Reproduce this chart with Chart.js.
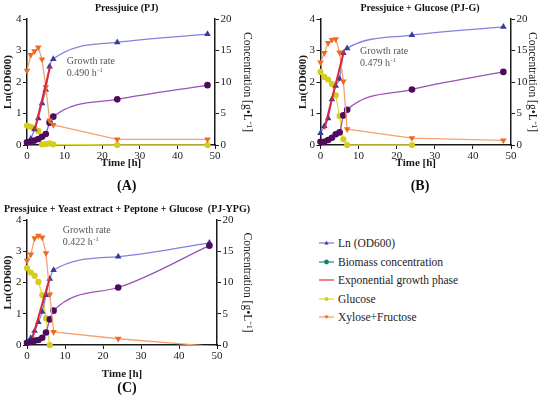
<!DOCTYPE html>
<html>
<head>
<meta charset="utf-8">
<script src="https://cdn.jsdelivr.net/npm/chart.js@4.4.0/dist/chart.umd.min.js"></script>
<style>
  body { margin: 0; background: #fff; }
  #wrap { position: relative; width: 550px; height: 397px; overflow: hidden; font-family: "Liberation Serif", serif; }
  #wrap canvas { position: absolute; }
  #legend { position: absolute; left: 319px; top: 234px; font-size: 11.5px; color: #222; }
  .item { height: 18.5px; display: flex; align-items: center; }
  .item svg { width: 15px; height: 8px; margin-right: 4px; }
</style>
</head>
<body>
<div id="wrap">
  <canvas id="chartA" width="275" height="197" style="left:0;top:0"></canvas>
  <canvas id="chartB" width="275" height="197" style="left:275px;top:0"></canvas>
  <canvas id="chartC" width="275" height="200" style="left:0;top:197px"></canvas>
  <div id="legend">
    <div class="item"><svg viewBox="0 0 15 8"><line x1="0" y1="4" x2="15" y2="4" stroke="#8383df" stroke-width="1.3"/><polygon points="7.5,1.8 9.6,5.4 5.4,5.4" fill="#363c98"/></svg>Ln (OD600)</div>
    <div class="item"><svg viewBox="0 0 15 8"><line x1="0" y1="4" x2="15" y2="4" stroke="#2a9a82" stroke-width="1.3"/><circle cx="7.5" cy="4" r="2.4" fill="#17806c"/></svg>Biomass concentration</div>
    <div class="item"><svg viewBox="0 0 15 8"><line x1="0" y1="4" x2="15" y2="4" stroke="#f0606e" stroke-width="1.6"/></svg>Exponential growth phase</div>
    <div class="item"><svg viewBox="0 0 15 8"><line x1="0" y1="4" x2="15" y2="4" stroke="#e2dc3c" stroke-width="1.3"/><circle cx="7.5" cy="4" r="2" fill="#d6cc1e"/></svg>Glucose</div>
    <div class="item"><svg viewBox="0 0 15 8"><line x1="0" y1="4" x2="15" y2="4" stroke="#f6a170" stroke-width="1.3"/><polygon points="7.5,6 9.6,2.4 5.4,2.4" fill="#ef6a1f"/></svg>Xylose+Fructose</div>
  </div>
</div>
<script>
// sampling times [h]
const hours = [0, 1, 2, 3, 4, 5, 6, 7, 24, 48];

// (A) Pressjuice
const pjOD = [0.05, 0.2, 0.5, 0.85, 1.32, 1.75, 2.49, 2.73, 3.26, 3.52];
const pjBiomass = [0.42, 0.5, 0.7, 0.95, 1.3, 1.75, 3.55, 4.5, 7.25, 9.5];
const pjGlucose = [3.08, 2.88, 2.65, 2.23, 0.1, 0.15, 0.25, 0.1, 0, 0];
const pjXylFru = [11.8, 14.3, 14.9, 15.5, 13.6, 9.2, 3.9, 3.2, 0.9, 0.9];
const pjExpT = [2, 6.2];
const pjExpOD = [0.45, 2.51];

// (B) Pressjuice + Glucose
const pjgOD = [0.38, 0.6, 0.85, 1.45, 1.88, 2.1, 2.92, 3.07, 3.49, 3.75];
const pjgBiomass = [0.5, 0.5, 0.8, 1.15, 1.7, 2.0, 4.7, 5.6, 8.8, 11.6];
const pjgGlucose = [11.6, 10.8, 10.4, 9.7, 7.9, 4.6, 0.9, 0, 0, null];
const pjgXylFru = [13.1, 14.6, 16.2, 16.7, 16.8, 14.7, 10.1, 2.5, 1.1, 0.75];
const pjgExpT = [1, 6.2];
const pjgExpOD = [0.5, 3.0];

// (C) Pressjuice + Yeast extract + Peptone + Glucose
const ypgOD = [0.05, 0.22, 0.45, 0.73, 1.06, 1.6, 2.12, 2.4, 2.83, 3.27];
const ypgBiomass = [0.37, 0.53, 0.7, 0.8, 1.17, 2.0, 4.1, 5.5, 9.2, 15.9];
const ypgGlucose = [12.3, 11.6, 11.1, 10.1, 8.0, 4.3, 0, null, null, null];
const ypgXylFru = [13.5, 14.5, 17.1, 17.5, 17.2, 14.7, 8.1, 2.1, 1.0, -0.17];
const ypgExpT = [1.5, 6];
const ypgExpOD = [0.25, 2.15];

const serif = '"Liberation Serif", "Times New Roman", serif';
Chart.defaults.font.family = serif;

function pts(times, values) {
  return times.map((t, i) => ({ x: t, y: values[i] }));
}

// panel title, (A)/(B)/(C) letter and growth rate note
const panelText = {
  id: 'panelText',
  afterDraw(chart, args, o) {
    const ctx = chart.ctx;
    ctx.save();
    ctx.textBaseline = 'middle';
    ctx.textAlign = 'center';
    ctx.fillStyle = '#111';
    ctx.font = 'bold 10px ' + serif;
    ctx.fillText(o.title, o.cx, o.titleY);
    ctx.font = 'bold 14px ' + serif;
    ctx.fillText(o.letter, o.cx, o.letterY);

    const x = chart.scales.x.getPixelForValue(o.noteX);
    const y = chart.scales.y.getPixelForValue(o.noteY);
    ctx.textAlign = 'left';
    ctx.fillStyle = '#555';
    ctx.font = '10px ' + serif;
    ctx.fillText('Growth rate', x, y);
    const base = o.rate + ' h';
    ctx.fillText(base, x, y + 12);
    const w = ctx.measureText(base).width;
    ctx.font = '6.5px ' + serif;
    ctx.fillText('-1', x + w + 0.5, y + 9);
    ctx.restore();
  }
};

function makePanel(id, p) {
  const ink = '#1a1a1a';
  const tickFont = { family: serif, size: 11 };
  const grid = { drawOnChartArea: false, color: ink, tickLength: 4, lineWidth: 1 };
  const border = { color: ink, width: 1.5 };

  return new Chart(document.getElementById(id), {
    type: 'line',
    data: {
      datasets: [
        {
          label: 'Exponential growth phase',
          data: pts(p.expT, p.expOD),
          borderColor: '#d8283a', borderWidth: 2, pointRadius: 0, tension: 0,
          yAxisID: 'y'
        },
        {
          label: 'Xylose+Fructose',
          data: pts(hours, p.xylFru),
          borderColor: '#f6a170', borderWidth: 1.3, tension: 0,
          pointStyle: 'triangle', rotation: 180,
          pointRadius: c => (c.raw && c.raw.y < 0 ? 0 : 3.8),
          pointBackgroundColor: '#ef6a1f', pointBorderWidth: 0,
          yAxisID: 'y1', clip: { left: 6, right: 6, top: 6, bottom: 1 }
        },
        {
          label: 'Biomass concentration',
          data: pts(hours, p.biomass),
          borderColor: '#9a52b8', borderWidth: 1.3, cubicInterpolationMode: 'monotone',
          pointStyle: 'circle', pointRadius: 3.3,
          pointBackgroundColor: '#4b0c5c', pointBorderWidth: 0,
          yAxisID: 'y1', clip: 6
        },
        {
          label: 'Ln (OD600)',
          data: pts(hours, p.od),
          borderColor: '#8383df', borderWidth: 1.3, cubicInterpolationMode: 'monotone',
          pointStyle: 'triangle', pointRadius: 3.8,
          pointBackgroundColor: '#363c98', pointBorderWidth: 0,
          yAxisID: 'y', clip: 6
        },
        {
          label: 'Glucose',
          data: pts(hours, p.glucose),
          borderColor: '#e2dc3c', borderWidth: 1.3, tension: 0,
          pointStyle: 'circle', pointRadius: 3.1,
          pointBackgroundColor: '#d6cc1e', pointBorderWidth: 0,
          yAxisID: 'y1', clip: 6
        }
      ]
    },
    options: {
      responsive: false,
      animation: false,
      layout: { padding: { top: p.padTop, bottom: p.padBottom, left: 0, right: 0 } },
      plugins: {
        legend: { display: false },
        tooltip: { enabled: false },
        panelText: {
          title: p.title, letter: p.letter, cx: p.cx, titleY: p.titleY, letterY: p.letterY,
          rate: p.rate, noteX: p.noteX, noteY: p.noteY
        }
      },
      scales: {
        x: {
          type: 'linear', min: 0, max: 50,
          ticks: { stepSize: 10, font: tickFont, color: ink, padding: 1, maxRotation: 0 },
          grid: grid, border: border,
          title: { display: true, text: 'Time [h]', color: ink,
            font: { family: serif, size: 11, weight: 'bold' }, padding: { top: 0, bottom: p.xTitlePad } },
          afterFit: s => { s.height = p.xH; }
        },
        y: {
          position: 'left', min: 0, max: 4,
          ticks: { stepSize: 1, font: tickFont, color: ink, padding: 1.5 },
          grid: grid, border: border,
          title: { display: true, text: 'Ln(OD600)', color: ink,
            font: { family: serif, size: 11, weight: 'bold' }, padding: { top: p.yTitlePad, bottom: 0 } },
          afterFit: s => { s.width = p.yW; }
        },
        y1: {
          position: 'right', min: 0, max: 20,
          ticks: { stepSize: 5, font: tickFont, color: ink, padding: 1.5 },
          grid: grid, border: border,
          title: { display: true, text: 'Concentration [g•L⁻¹]', color: ink,
            font: { family: serif, size: 11.5 }, padding: { top: p.y1TitlePad, bottom: 0 } },
          afterFit: s => { s.width = p.y1W; }
        }
      }
    },
    plugins: [panelText]
  });
}

makePanel('chartA', {
  od: pjOD, biomass: pjBiomass, glucose: pjGlucose, xylFru: pjXylFru, expT: pjExpT, expOD: pjExpOD,
  title: 'Pressjuice (PJ)', letter: '(A)', rate: '0.490', noteX: 10.6, noteY: 2.67,
  cx: 126.7, titleY: 8.3, letterY: 186,
  padTop: 19, padBottom: 18, xH: 34, xTitlePad: 8.9,
  yW: 27, y1W: 60, yTitlePad: 1.4, y1TitlePad: 21.4
});

makePanel('chartB', {
  od: pjgOD, biomass: pjgBiomass, glucose: pjgGlucose, xylFru: pjgXylFru, expT: pjgExpT, expOD: pjgExpOD,
  title: 'Pressjuice + Glucose (PJ-G)', letter: '(B)', rate: '0.479', noteX: 10.4, noteY: 2.97,
  cx: 145, titleY: 8.3, letterY: 186,
  padTop: 19, padBottom: 18, xH: 34, xTitlePad: 8.9,
  yW: 45.5, y1W: 39, yTitlePad: 21.7, y1TitlePad: 11.4
});

makePanel('chartC', {
  od: ypgOD, biomass: ypgBiomass, glucose: ypgGlucose, xylFru: ypgXylFru, expT: ypgExpT, expOD: ypgExpOD,
  title: 'Pressjuice + Yeast extract + Peptone + Glucose  (PJ-YPG)', letter: '(C)', rate: '0.422', noteX: 9.4, noteY: 3.68,
  cx: 127, titleY: 12, letterY: 191,
  padTop: 23, padBottom: 16, xH: 36, xTitlePad: 0.4,
  yW: 27, y1W: 58, yTitlePad: 1.7, y1TitlePad: 21.4
});
</script>
</body>
</html>
